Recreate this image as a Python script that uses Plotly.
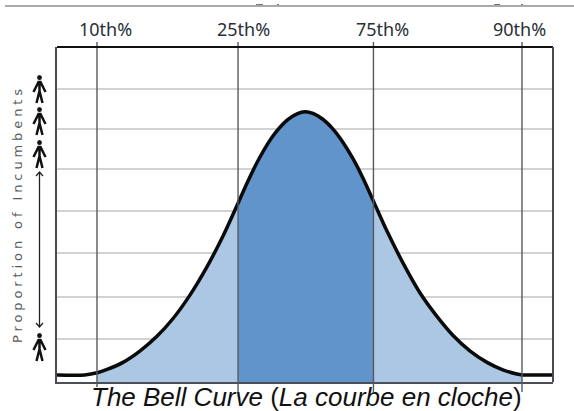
import plotly.graph_objects as go

W, H = 574, 411
L, R, T, B = 57, 553, 47, 382

# Curve: x = position across the distribution, y = proportion units
curve_x = [0, 5.6, 8.1, 10.1, 13.3, 16.7, 20.2, 23.4, 26.8, 30.2, 33.5, 36.5, 38.3, 40.9, 43.6, 46.4,
           48.4, 50, 51.6, 53.6, 55.6, 57.7, 59.7, 61.7, 63.8, 66.5, 69.8, 73.2, 76.6, 79.8, 83.3,
           86.7, 89.9, 92.7, 93.8, 100]
curve_y = [.17, .17, .22, .30, .47, .74, 1.10, 1.52, 2.08, 2.75, 3.50, 4.28, 4.76, 5.38, 5.90, 6.27,
           6.42, 6.47, 6.43, 6.29, 6.06, 5.73, 5.34, 4.88, 4.33, 3.62, 2.84, 2.13, 1.57, 1.12, .74,
           .47, .29, .19, .17, .17]
grid_y = [1.03, 2.04, 3.09, 4.10, 5.10, 6.06, 7.02]
pct_x = [8.06, 36.5, 63.8, 93.75]
pct_labels = ["10th%", "25th%", "75th%", "90th%"]
label_px = [105, 243, 382, 519]
y_title = "Proportion of Incumbents"
caption = "<i>The Bell Curve </i>(<i>La courbe en cloche</i>)"

LIGHT, MID = "#ABC7E3", "#6094CB"


def px(x):
    return (x - L) / (R - L)


def py(y):
    return (B - y) / (B - T)


def idx(v):
    return curve_x.index(v)


fig = go.Figure()
for a, b, col in [(8.1, 36.5, LIGHT), (36.5, 63.8, MID), (63.8, 93.8, LIGHT)]:
    i, j = idx(a), idx(b) + 1
    fig.add_trace(go.Scatter(x=curve_x[i:j], y=curve_y[i:j], mode="lines", fill="tozeroy",
                             fillcolor=col, line=dict(width=0, color=col, shape="spline", smoothing=0.8),
                             hoverinfo="skip"))
fig.add_trace(go.Scatter(x=curve_x, y=curve_y, mode="lines",
                         line=dict(color="#0a0a0a", width=3.5, shape="spline", smoothing=0.8),
                         hoverinfo="skip"))

shapes = []
bottoms = [387, 392, 392, 392]
for x, bot in zip(pct_x, bottoms):
    shapes.append(dict(type="line", xref="x", yref="paper", x0=x, x1=x, y0=py(bot), y1=py(42),
                       line=dict(color="#555a60", width=1.4)))

# top rule and clipped remnants
shapes.append(dict(type="line", xref="paper", yref="paper", x0=px(5), x1=px(574), y0=py(6), y1=py(6),
                   line=dict(color="#8c8c8c", width=1.3)))
for a, b in [(256, 263), (277, 279), (494, 500), (521, 523)]:
    shapes.append(dict(type="line", xref="paper", yref="paper", x0=px(a), x1=px(b), y0=py(4.5), y1=py(4.5),
                       line=dict(color="#777777", width=1)))


def person(top):
    """A small stick figure, 29 px tall, centred on the arrow column."""
    cx = 39.5
    pts = [
        f"M{px(cx - 6)},{py(top + 17)} L{px(cx - 1)},{py(top + 7)} L{px(cx + 1)},{py(top + 7)} L{px(cx + 6)},{py(top + 17)}",
        f"M{px(cx)},{py(top + 7)} L{px(cx)},{py(top + 16)}",
        f"M{px(cx)},{py(top + 16)} L{px(cx - 3)},{py(top + 28)}",
        f"M{px(cx)},{py(top + 16)} L{px(cx + 3)},{py(top + 28)}",
    ]
    out = [dict(type="path", xref="paper", yref="paper", path=" ".join(pts),
                line=dict(color="#111111", width=2.5))]
    out.append(dict(type="circle", xref="paper", yref="paper", x0=px(cx - 2.4), x1=px(cx + 2.4),
                    y0=py(top + 5), y1=py(top), fillcolor="#111111", line=dict(width=0)))
    return out


for top in [75, 107, 140, 333]:
    shapes += person(top)

# double-headed arrow
shapes.append(dict(type="path", xref="paper", yref="paper",
                   path=f"M{px(39.5)},{py(172)} L{px(39.5)},{py(327)} "
                        f"M{px(36)},{py(176)} L{px(39.5)},{py(172)} L{px(43)},{py(176)} "
                        f"M{px(36)},{py(323)} L{px(39.5)},{py(327)} L{px(43)},{py(323)}",
                   line=dict(color="#222222", width=1.3)))

annotations = []
for lx, t in zip(label_px, pct_labels):
    annotations.append(dict(text=t, xref="paper", yref="paper", x=px(lx), y=py(29), showarrow=False,
                            xanchor="center", yanchor="middle",
                            font=dict(family="Noto Sans", size=18, color="#2a2f36")))
annotations.append(dict(text=f'<span style="letter-spacing:3.9px">{y_title}</span>', xref="paper", yref="paper",
                        x=px(17), y=py(214), textangle=-90, showarrow=False,
                        xanchor="center", yanchor="middle",
                        font=dict(family="DejaVu Sans", size=13, color="#5a5a5a")))
annotations.append(dict(text=caption, xref="paper", yref="paper", x=px(306), y=py(397), showarrow=False,
                        xanchor="center", yanchor="middle",
                        font=dict(family="Liberation Sans", size=26, color="#111111")))

fig.update_layout(
    width=W, height=H, autosize=False, showlegend=False,
    margin=dict(l=L, r=W - R, t=T, b=H - B, pad=0),
    paper_bgcolor="white", plot_bgcolor="white",
    shapes=shapes, annotations=annotations,
    xaxis=dict(range=[0, 100], showgrid=False, zeroline=False, showticklabels=False, ticks="",
               showline=True, mirror=False, linecolor="#4a5058", linewidth=2),
    yaxis=dict(range=[0, 8.02], tickvals=grid_y, showgrid=True, gridcolor="#d2d2d2", gridwidth=2,
               zeroline=False, showticklabels=False, ticks="",
               showline=True, mirror=False, linecolor="#4a4a4a", linewidth=2),
)
# frame edges on the top and right
fig.add_shape(type="line", xref="paper", yref="paper", x0=0, x1=1, y0=1, y1=1, line=dict(color="#111111", width=2))
fig.add_shape(type="line", xref="paper", yref="paper", x0=1, x1=1, y0=0, y1=1, line=dict(color="#4a4a4a", width=2))

fig.write_html("out.html", config={"displayModeBar": False},
               post_script="document.body.style.margin='0';document.body.style.overflow='hidden';")
